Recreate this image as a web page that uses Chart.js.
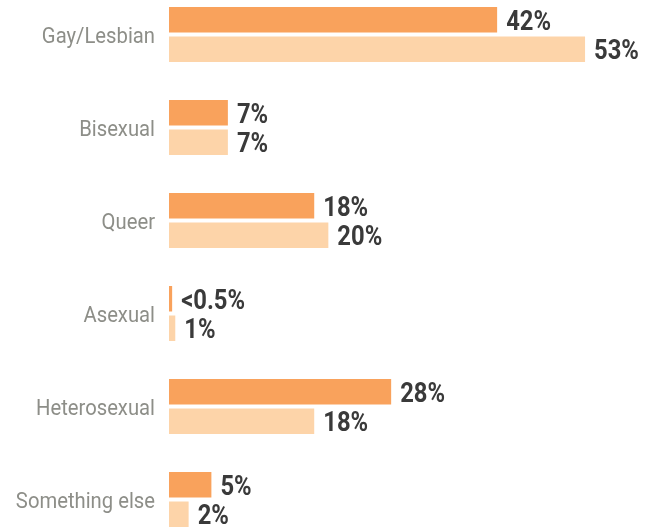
<!DOCTYPE html>
<html>
<head>
<meta charset="utf-8">
<script src="https://cdn.jsdelivr.net/npm/chart.js@4"></script>
<style>
  html, body { margin: 0; padding: 0; background: #fff; overflow: hidden; }
  #wrap { position: absolute; left: 0; top: -12px; width: 655px; height: 558px; }
</style>
</head>
<body>
<div id="wrap"><canvas id="chart"></canvas></div>
<script>
const categories = ['Gay/Lesbian', 'Bisexual', 'Queer', 'Asexual', 'Heterosexual', 'Something else'];
const seriesA = [41.8, 7.5, 18.5, 0.4, 28.3, 5.4];
const seriesB = [53, 7.5, 20.3, 0.8, 18.5, 2.5];
const labelsA = ['42%', '7%', '18%', '<0.5%', '28%', '5%'];
const labelsB = ['53%', '7%', '20%', '1%', '18%', '2%'];

// squeeze Roboto sideways to look like the condensed face in the original
function drawNarrow(ctx, text, x, y, sx) {
  ctx.save();
  ctx.translate(x, y);
  ctx.scale(sx, 1);
  ctx.fillText(text, 0, 0);
  ctx.restore();
}

const textPlugin = {
  id: 'textPlugin',
  afterDatasetsDraw(chart) {
    const ctx = chart.ctx;
    const yScale = chart.scales.y;
    ctx.save();
    ctx.textBaseline = 'alphabetic';

    // category names
    ctx.font = '22px Roboto, sans-serif';
    ctx.fillStyle = '#8d8e88';
    ctx.textAlign = 'right';
    categories.forEach((c, i) => {
      drawNarrow(ctx, c, 155, yScale.getPixelForTick(i) + 8, 0.92);
    });

    // value text at the end of each bar
    const texts = [labelsA, labelsB];
    ctx.font = 'bold 28px Roboto, sans-serif';
    ctx.fillStyle = '#3a3a3a';
    ctx.textAlign = 'left';
    chart.data.datasets.forEach((ds, di) => {
      chart.getDatasetMeta(di).data.forEach((bar, i) => {
        drawNarrow(ctx, texts[di][i], bar.x + 9, bar.y + 10, 0.85);
      });
    });
    ctx.restore();
  }
};

new Chart(document.getElementById('chart'), {
  type: 'bar',
  data: {
    labels: categories,
    datasets: [
      { data: seriesA, backgroundColor: '#F9A25C', categoryPercentage: 0.634, barPercentage: 0.864 },
      { data: seriesB, backgroundColor: '#FDD4A9', categoryPercentage: 0.634, barPercentage: 0.864 }
    ]
  },
  options: {
    indexAxis: 'y',
    responsive: true,
    maintainAspectRatio: false,
    animation: false,
    layout: { padding: { left: 0, right: 15, top: 0, bottom: 0 } },
    plugins: { legend: { display: false }, tooltip: { enabled: false } },
    scales: {
      x: { min: 0, max: 60, display: false },
      y: {
        grid: { display: false, drawTicks: false },
        border: { display: false },
        ticks: { display: false },
        afterFit(scale) { scale.width = 169; }
      }
    }
  },
  plugins: [textPlugin]
});
</script>
</body>
</html>
